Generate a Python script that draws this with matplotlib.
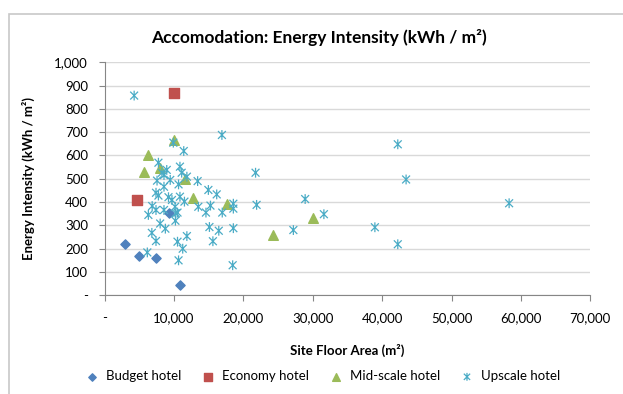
import matplotlib
matplotlib.use("Agg")
import matplotlib.pyplot as plt
from matplotlib.path import Path
from matplotlib.patches import Rectangle
from matplotlib.ticker import FuncFormatter

plt.rcParams['font.family'] = ['Lato', 'DejaVu Sans']

# site floor area (m2), energy intensity (kWh/m2)
budget_x = [2950, 5000, 7450, 9250, 10900]
budget_y = [220, 170, 159, 353, 44]

economy_x = [10000, 4600]
economy_y = [870, 408]

mid_x = [9950, 6200, 5700, 7950, 11550, 12750, 17600, 24200, 30000]
mid_y = [665, 602, 528, 545, 499, 419, 390, 259, 330]

upscale_x = [4250, 16900, 9900, 11400, 7750, 8950, 10850, 11100, 11850, 8550,
             8250, 7550, 9450, 10650, 13400, 8550, 7400, 7750, 9200, 10850,
             9700, 11500, 14950, 16150, 6850, 7400, 8550, 10150, 10500, 13500,
             15250, 14600, 16950, 18550, 18550, 21750, 21900, 6300, 8000, 8750,
             10200, 6800, 11850, 10500, 7400, 11250, 15100, 16450, 18550, 15600,
             6150, 10650, 18450, 10250, 42250, 43450, 28900, 31600, 27200, 38950,
             42250, 58300]
upscale_y = [857, 688, 655, 619, 569, 538, 552, 526, 509, 516,
             526, 492, 495, 476, 490, 466, 440, 428, 421, 423,
             409, 402, 452, 433, 383, 366, 366, 380, 355, 380,
             385, 355, 355, 393, 372, 526, 388, 345, 308, 286,
             320, 268, 254, 230, 233, 200, 293, 277, 288, 232,
             184, 150, 129, 352, 648, 497, 413, 348, 280, 292,
             219, 395]

# asterisk marker: x plus vertical bar
star = Path([(0, -1), (0, 1), (-0.8, -0.8), (0.8, 0.8), (-0.8, 0.8), (0.8, -0.8)],
            [Path.MOVETO, Path.LINETO, Path.MOVETO, Path.LINETO, Path.MOVETO, Path.LINETO])

fig = plt.figure(figsize=(6.23, 3.94), dpi=100)
ax = fig.add_axes([0.168, 0.2505, 0.7795, 0.5915])

fig.patches.append(Rectangle((9 / 623, -0.1), 1.2, (394 - 14) / 394 + 0.1,
                             transform=fig.transFigure, fill=False,
                             edgecolor='#c8c8c8', linewidth=1.2, zorder=0))

ax.scatter(budget_x, budget_y, marker='D', s=22, color='#4f81bd', label='Budget hotel', zorder=3)
ax.scatter(economy_x, economy_y, marker='s', s=45, color='#c0504d', label='Economy hotel', zorder=3)
ax.scatter(mid_x, mid_y, marker='^', s=48, color='#9bbb59', label='Mid-scale hotel', zorder=3)
ax.scatter(upscale_x, upscale_y, marker=star, s=50, facecolor='none', edgecolor='#4bacc6',
           linewidths=0.9, label='Upscale hotel', zorder=4)

ax.set_xlim(0, 70000)
ax.set_ylim(0, 1000)
ax.set_xticks(range(0, 70001, 10000))
ax.set_yticks(range(0, 1001, 100))
fmt = FuncFormatter(lambda v, p: '-' if v == 0 else f'{int(v):,}')
ax.xaxis.set_major_formatter(fmt)
ax.yaxis.set_major_formatter(fmt)

ax.grid(axis='y', color='#d9d9d9', linewidth=1)
ax.set_axisbelow(True)
for s in ['top', 'right']:
    ax.spines[s].set_visible(False)
for s in ['left', 'bottom']:
    ax.spines[s].set_color('#868686')
ax.tick_params(colors='#868686', labelcolor='black', labelsize=9.5, length=4)
ax.tick_params(axis='y', pad=8)
ax.tick_params(axis='x', pad=8)

fig.text(319 / 623, 1 - 37 / 394, 'Accomodation: Energy Intensity (kWh / m²)',
         ha='center', va='center', fontsize=12.5, fontweight='bold')
ax.set_xlabel('Site Floor Area (m²)', fontsize=9.5, fontweight='bold', labelpad=14)
ax.set_ylabel('Energy Intensity (kWh / m²)', fontsize=9.5, fontweight='bold', labelpad=14)

fig.legend(loc='center', bbox_to_anchor=(0.513, 0.045), ncol=4, frameon=False,
           fontsize=9.5, handletextpad=0.1, columnspacing=1.0, markerscale=0.8)

fig.savefig('out.png', dpi=100)
